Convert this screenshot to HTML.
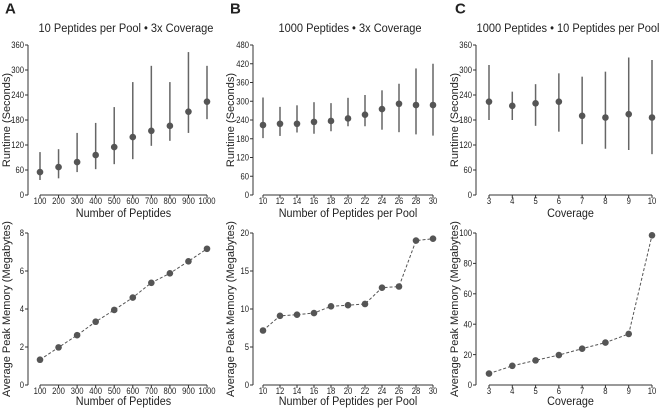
<!DOCTYPE html>
<html><head><meta charset="utf-8"><style>
body{margin:0;background:#fff}
svg{display:block;font-family:"Liberation Sans",Arial,sans-serif}
</style></head><body>
<svg id="c" width="661" height="409" viewBox="0 0 661 409" xmlns="http://www.w3.org/2000/svg"></svg>
<script>
const aCats=[100,200,300,400,500,600,700,800,900,1000];
const aRun=[55,67,79,96,115,139,154,166,200,224];
const aRunHi=[103,110,149,173,211,271,310,271,343,310];
const aRunLo=[36,40,55,62,74,86,118,130,149,182];
const aMem=[1.33,1.98,2.62,3.33,3.95,4.6,5.38,5.88,6.51,7.17];
const bCats=[10,12,14,16,18,20,22,24,26,28,30];
const bRun=[224,228,228,234,237,245,257,275,292,288,288];
const bRunHi=[312,282,287,297,294,311,320,335,356,405,420];
const bRunLo=[182,189,200,196,204,220,220,209,201,194,190];
const bMem=[7.17,9.1,9.25,9.47,10.35,10.5,10.66,12.8,12.96,19.0,19.25];
const cCats=[3,4,5,6,7,8,9,10];
const cRun=[224,214,220,224,190,186,194,186];
const cRunHi=[312,248,266,292,284,296,330,324];
const cRunLo=[180,180,166,152,122,111,108,98];
const cMem=[7.5,12.6,16.2,19.7,23.9,27.9,33.6,98.5];
const aRunTicks=[0,60,120,180,240,300,360];
const bRunTicks=[0,60,120,180,240,300,360,420,480];
const aMemTicks=[0,2,4,6,8];
const bMemTicks=[0,5,10,15,20];
const cMemTicks=[0,20,40,60,80,100];

const svg=document.getElementById('c');
const NS='http://www.w3.org/2000/svg';
function el(tag,attrs,parent){const e=document.createElementNS(NS,tag);for(const k in attrs)e.setAttribute(k,attrs[k]);(parent||svg).appendChild(e);return e;}
function txt(s,x,y,size,anchor,parent,extra){const t=el('text',Object.assign({x:x,y:y,'font-size':size,'text-anchor':anchor||'middle','dominant-baseline':'central',fill:'#222'},extra||{}),parent);t.textContent=s;return t;}

function panel(name,cats,ticks,ax,x0,x1,yTop,yBot,ytitle,xtitle,xtitleY,ytitleX,vals,hi,lo,line){
  const g=el('g',{});
  
  
  const max=ticks[ticks.length-1];
  const xs=i=>x0+(x1-x0)*i/(cats.length-1);
  const ys=v=>yBot-(yBot-yTop)*v/max;
  const yax=el('line',{x1:ax,x2:ax,y1:yTop,y2:yBot,stroke:'#333','stroke-width':1},g);
  
  
  ticks.forEach(t=>{el('line',{x1:ax-3,x2:ax,y1:ys(t),y2:ys(t),stroke:'#333'},g);
    const l=txt(String(t),ax-4,ys(t),9,'end',g,{transform:`translate(${ax-4},${ys(t)}) scale(0.85,1) translate(${-(ax-4)},${-ys(t)})`});
    
    });
  const xax=el('line',{x1:x0,x2:x1,y1:yBot,y2:yBot,stroke:'#333','stroke-width':1},g);
  
  
  cats.forEach((c,i)=>{el('line',{x1:xs(i),x2:xs(i),y1:yBot,y2:yBot+3,stroke:'#333'},g);
    const l=txt(String(c),xs(i),yBot+6,9,'middle',g,{transform:`translate(${xs(i)},0) scale(0.85,1) translate(${-xs(i)},0)`});
    
    });
  const xt=txt(xtitle,(x0+x1)/2,xtitleY,12,'middle',g,{transform:`translate(${(x0+x1)/2},0) scale(0.9,1) translate(${-(x0+x1)/2},0)`});
  
  
  const cy=(yTop+yBot)/2;
  const yt=txt(ytitle,ytitleX,cy,11,'middle',g,{transform:`rotate(-90 ${ytitleX} ${cy})`});
  
  
  if(line){const p=el('polyline',{points:vals.map((v,i)=>xs(i)+','+ys(v)).join(' '),fill:'none',stroke:'#555','stroke-width':1,'stroke-dasharray':'3,2'},g);
    
    }
  vals.forEach((v,i)=>{
    if(hi){const e=el('line',{x1:xs(i),x2:xs(i),y1:ys(hi[i]),y2:ys(lo[i]),stroke:'#666','stroke-width':1.5},g);
      
      }
    const c=el('circle',{cx:xs(i),cy:ys(v),r:3.3,fill:'#555'},g);
    
    
  });
}
panel('runtime-vs-peptides',aCats,aRunTicks,28,40,207,45,195,'Runtime (Seconds)','Number of Peptides',214,7,aRun,aRunHi,aRunLo,false);
panel('runtime-vs-pool-size',bCats,bRunTicks,253,263,433,45,195,'Runtime (Seconds)','Number of Peptides per Pool',214,231,bRun,bRunHi,bRunLo,false);
panel('runtime-vs-coverage',cCats,aRunTicks,476,489,652,45,195,'Runtime (Seconds)','Coverage',214,455,cRun,cRunHi,cRunLo,false);
panel('memory-vs-peptides',aCats,aMemTicks,28,40,207,233,385,'Average Peak Memory (Megabytes)','Number of Peptides',402,7,aMem,null,null,true);
panel('memory-vs-pool-size',bCats,bMemTicks,253,263,433,233,385,'Average Peak Memory (Megabytes)','Number of Peptides per Pool',402,231,bMem,null,null,true);
panel('memory-vs-coverage',cCats,cMemTicks,476,489,652,233,385,'Average Peak Memory (Megabytes)','Coverage',402,455,cMem,null,null,true);

[['A',5,'panel-label-a'],['B',230,'panel-label-b'],['C',455,'panel-label-c']].forEach(a=>{
  const t=txt(a[0],a[1],9,15,'start',svg,{'font-weight':'bold'});
  
  });
[['10 Peptides per Pool • 3x Coverage',126,'title-a'],['1000 Peptides • 3x Coverage',350,'title-b'],['1000 Peptides • 10 Peptides per Pool',568,'title-c']].forEach(a=>{
  const t=txt(a[0],a[1],29,12,'middle',svg,{transform:`translate(${a[1]},0) scale(0.92,1) translate(${-a[1]},0)`});
  
  });
</script>
</body></html>
